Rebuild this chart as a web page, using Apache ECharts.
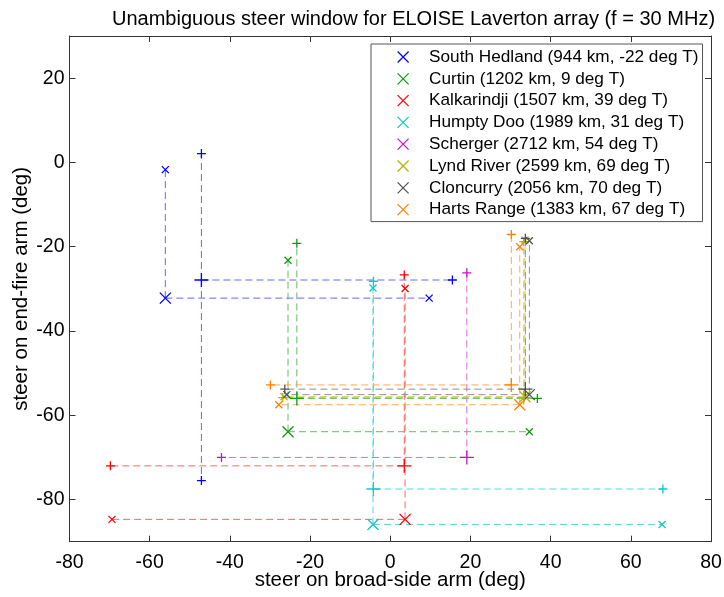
<!DOCTYPE html>
<html><head><meta charset="utf-8">
<script src="https://cdn.jsdelivr.net/npm/echarts@6/dist/echarts.min.js"></script>
<style>html,body{margin:0;padding:0;background:#fff}#c{width:724px;height:597px}</style>
</head><body><div id="c"></div>
<script>
const stations = [
  'South Hedland (944 km, -22 deg T)',
  'Curtin (1202 km, 9 deg T)',
  'Kalkarindji (1507 km, 39 deg T)',
  'Humpty Doo (1989 km, 31 deg T)',
  'Scherger (2712 km, 54 deg T)',
  'Lynd River (2599 km, 69 deg T)',
  'Cloncurry (2056 km, 70 deg T)',
  'Harts Range (1383 km, 67 deg T)'
];
const colors = ['#0000ff','#109a10','#ff0000','#10c8c8','#c810c8','#b4b400','#505050','#ff8000'];
const lineColors = ['#6666ff','#66bb66','#ff6666','#55d8d8','#dd66dd','#cccc44','#909090','#ffaa55'];

// big "x" marker [broad-side, end-fire] (null where not visible)
const bigX = [[-56.1,-32.2],[-25.5,-63.9],[3.7,-84.7],[-4.3,-85.9],null,[33.6,-55.6],[34.7,-55.1],[32.3,-57.5]];
// end-fire value of small "x" at end of vertical dashed line from big x
const xVertEnd = [-1.7,-23.2,-29.9,-29.8,null,-18.4,-18.6,-20.0];
// broad-side value of small "x" at end of horizontal dashed line from big x
const xHorzEnd = [9.7,34.7,-69.4,67.8,null,-26.5,-25.8,-27.8];

// big "+" marker [broad-side, end-fire]
const bigPlus = [[-47.1,-27.9],[-23.3,-56.0],[3.5,-72.0],[-4.2,-77.5],[19.1,-70.0],[33.3,-55.8],[33.7,-53.8],[30.2,-52.8]];
// end-fire values of small "+" at ends of vertical dashed lines
const plusVertEnds = [[2.1,-75.5],[-19.2],[-26.7],[-28.2],[-26.2],[-18.8],[-18.0],[-17.1]];
// broad-side value of small "+" at end of horizontal dashed line
const plusHorzEnd = [15.5,36.7,-69.8,68.0,-42.1,-26.8,-26.3,-29.9];

const yTicks = [-80,-60,-40,-20,0,20];

const xPath = 'path://M0,0L10,10M10,0L0,10';
const pPath = 'path://M5,0L5,10M0,5L10,5';
const FONT = 'Liberation Sans, Arial, sans-serif';

const series = [];
function seg(i, a, b) {
  series.push({
    type: 'line', name: stations[i], data: [a, b], symbol: 'none', silent: true,
    itemStyle: {color: lineColors[i]},
    lineStyle: {color: lineColors[i], width: 1, type: [7, 4], opacity: 1},
    emphasis: {disabled: true},
    z: 2, animation: false
  });
}
function marks(i, pts, path, size) {
  series.push({
    type: 'scatter', name: stations[i], data: pts, symbol: path, symbolSize: size, silent: true,
    itemStyle: {color: 'rgba(0,0,0,0)', borderColor: colors[i], borderWidth: 1.3, opacity: 1},
    emphasis: {disabled: true},
    z: 3, animation: false
  });
}
for (let i = 0; i < stations.length; i++) {
  const X = bigX[i];
  if (X) {
    seg(i, X, [X[0], xVertEnd[i]]);
    seg(i, X, [xHorzEnd[i], X[1]]);
  }
  const P = bigPlus[i];
  plusVertEnds[i].forEach(v => seg(i, P, [P[0], v]));
  seg(i, P, [plusHorzEnd[i], P[1]]);
  if (X) {
    marks(i, [X], xPath, 11);
    marks(i, [[X[0], xVertEnd[i]], [xHorzEnd[i], X[1]]], xPath, 7);
  }
  marks(i, [P], pPath, 14);
  marks(i, plusVertEnds[i].map(v => [P[0], v]).concat([[plusHorzEnd[i], P[1]]]), pPath, 9);
}

const axLine = {show: true, onZero: false, lineStyle: {color: '#333', width: 1}};
const tick = {inside: true, length: 6, lineStyle: {color: '#333'}};
const chart = echarts.init(document.getElementById('c'), null, {renderer: 'canvas'});
chart.setOption({
  animation: false,
  backgroundColor: '#fff',
  title: {
    text: 'Unambiguous steer window for ELOISE Laverton array (f = 30 MHz)',
    left: 107, top: 4,
    textStyle: {fontFamily: FONT, fontSize: 20, fontWeight: 'normal', color: '#000'}
  },
  grid: {left: 69.5, right: 13, top: 36, bottom: 55.3, containLabel: false, outerBoundsMode: 'none'},
  legend: {
    data: stations.map((n, i) => ({
      name: n, icon: xPath,
      itemStyle: {color: 'rgba(0,0,0,0)', borderColor: colors[i], borderWidth: 1.2}
    })),
    orient: 'vertical', left: 371, top: 44,
    padding: [3, 4, 2, 26],
    itemWidth: 42, itemHeight: 11, itemGap: 1.8,
    backgroundColor: '#fff', borderColor: '#555', borderWidth: 1, borderRadius: 0,
    textStyle: {fontFamily: FONT, fontSize: 17.2, color: '#000', lineHeight: 20},
    selectedMode: false
  },
  xAxis: [{
    type: 'value', min: -80, max: 80, interval: 20, position: 'bottom',
    axisLine: axLine, axisTick: tick,
    axisLabel: {fontFamily: FONT, fontSize: 19.5, color: '#000', margin: 11, showMinLabel: true, showMaxLabel: true},
    splitLine: {show: false},
    name: 'steer on broad-side arm (deg)', nameLocation: 'middle', nameGap: 28, nameMoveOverlap: false,
    nameTextStyle: {fontFamily: FONT, fontSize: 20.5, color: '#000'}
  }, {
    type: 'value', min: -80, max: 80, interval: 20, position: 'top',
    axisLine: axLine, axisTick: tick,
    axisLabel: {show: false}, splitLine: {show: false}
  }],
  yAxis: [{
    type: 'value', min: -90, max: 30, position: 'left',
    axisLine: axLine,
    axisTick: Object.assign({customValues: yTicks}, tick),
    axisLabel: {fontFamily: FONT, fontSize: 19.5, color: '#000', margin: 5, customValues: yTicks},
    splitLine: {show: false},
    name: 'steer on end-fire arm (deg)', nameLocation: 'middle', nameGap: 38, nameMoveOverlap: false,
    nameTextStyle: {fontFamily: FONT, fontSize: 20.5, color: '#000'}
  }, {
    type: 'value', min: -90, max: 30, position: 'right',
    axisLine: axLine,
    axisTick: Object.assign({customValues: yTicks}, tick),
    axisLabel: {show: false, customValues: yTicks}, splitLine: {show: false}
  }],
  series: series
});
</script>
</body></html>
